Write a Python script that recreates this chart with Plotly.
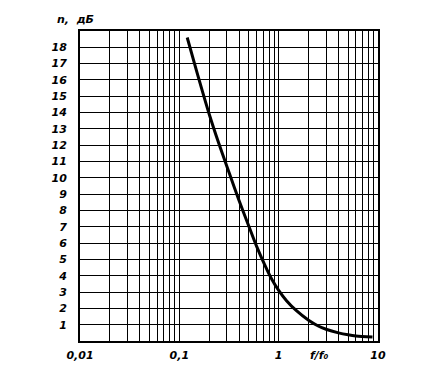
import plotly.graph_objects as go

# Data
f_ratio = [0.12, 0.15, 0.2, 0.25, 0.32, 0.4, 0.5, 0.6, 0.72, 0.85, 1.0, 1.2, 1.5, 2.0, 2.5, 3.0, 4.0, 5.0, 6.0, 8.8]
n_db = [18.6, 16.5, 13.9, 12.1, 10.25, 8.6, 7.05, 5.8, 4.7, 3.8, 3.1, 2.47, 1.87, 1.27, 0.92, 0.72, 0.5, 0.38, 0.31, 0.24]
y_ticks = list(range(1, 19))

font_lbl = dict(family="DejaVu Sans", size=11, color="black", style="italic", weight="bold")

fig = go.Figure()
fig.add_trace(go.Scatter(x=f_ratio, y=n_db, mode="lines",
                         line=dict(color="black", width=3, shape="spline", smoothing=0.8),
                         showlegend=False, hoverinfo="skip"))

fig.update_layout(
    width=441, height=366,
    margin=dict(l=72, r=71, t=23, b=23),
    paper_bgcolor="white", plot_bgcolor="white",
    separators=",.",
    xaxis=dict(type="log", range=[-2, 1], tickmode="linear", tick0=0, dtick=1,
               showgrid=True, gridcolor="black", gridwidth=1.4,
               minor=dict(dtick="D1", showgrid=True, gridcolor="black", gridwidth=1.4, ticks=""),
               showline=True, linecolor="black", linewidth=2, mirror=True,
               ticks="", tickfont=font_lbl, ticklabelstandoff=3, zeroline=False),
    yaxis=dict(range=[0, 19], tickmode="array", tickvals=y_ticks,
               ticktext=[str(v) for v in y_ticks],
               showgrid=True, gridcolor="black", gridwidth=1.4,
               showline=True, linecolor="black", linewidth=2, mirror=True,
               ticks="", tickfont=font_lbl, ticklabelstandoff=9, zeroline=False),
    annotations=[
        dict(text="n,  дБ", xref="paper", yref="paper", x=-0.084, y=1.0375,
             xanchor="left", yanchor="middle", showarrow=False, font=font_lbl),
        dict(text="f/f₀", xref="x", yref="paper", x=0.41, y=-0.018,
             xanchor="center", yanchor="top", showarrow=False, font=font_lbl),
    ],
)

fig.write_html("out.html")
